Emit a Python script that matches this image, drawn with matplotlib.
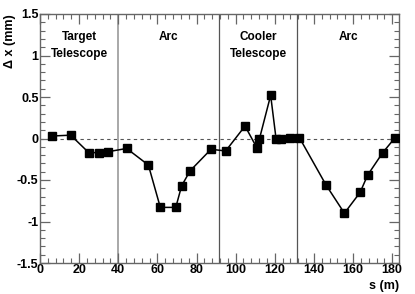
import matplotlib
matplotlib.use("Agg")
import matplotlib.pyplot as plt
from matplotlib.ticker import MultipleLocator

s_m = [6.0, 15.7, 24.9, 30.0, 34.6, 44.3, 55.4, 61.5, 69.4, 72.4, 76.7, 87.4, 94.9,
       104.8, 110.8, 112.1, 117.9, 120.7, 123.4, 127.8, 132.6,
       146.2, 155.6, 163.6, 167.5, 175.2, 181.5]
dx_mm = [0.03, 0.04, -0.17, -0.17, -0.16, -0.12, -0.32, -0.83, -0.83, -0.57, -0.39, -0.13, -0.15,
         0.15, -0.11, -0.01, 0.52, -0.01, 0.0, 0.01, 0.01,
         -0.56, -0.90, -0.65, -0.44, -0.17, 0.01]
boundaries = [40.0, 91.7, 131.4]
regions = ["Target\nTelescope", "Arc", "Cooler\nTelescope", "Arc"]
region_centers = [20.0, 65.5, 111.5, 157.5]

plt.rcParams['font.family'] = ['Liberation Sans', 'DejaVu Sans']
fig = plt.figure(figsize=(4.15, 2.94), dpi=100)
ax = fig.add_axes([40/415, 1-263/294, 359/415, 249/294])
ax.set_xlim(0, 183.5)
ax.set_ylim(-1.5, 1.5)

ax.axhline(0, color='#555555', lw=0.8, ls=(0, (3, 3)), zorder=1)
for i, b in enumerate(boundaries):
    ax.axvline(b, color='#999999' if i == 0 else '#555555', lw=1.2 if i == 0 else 0.9, zorder=1)
ax.plot(s_m, dx_mm, color='black', lw=1.1, marker='s', ms=5.5, zorder=3)

for c, t in zip(region_centers, regions):
    ax.text(c, 1.29, t, ha='center', va='top', fontsize=8.5, fontweight='bold', linespacing=1.5)

ax.xaxis.set_major_locator(MultipleLocator(20))
ax.xaxis.set_minor_locator(MultipleLocator(4))
ax.yaxis.set_major_locator(MultipleLocator(0.5))
ax.yaxis.set_minor_locator(MultipleLocator(0.1))
ax.tick_params(which='both', direction='in', top=True, right=True, color='#666666')
ax.tick_params(which='major', length=7, width=0.9)
ax.tick_params(which='minor', length=3.5, width=0.8)
ax.tick_params(axis='both', labelsize=9)
for lab in ax.get_xticklabels() + ax.get_yticklabels():
    lab.set_fontweight('bold')
ax.set_yticks([-1.5, -1, -0.5, 0, 0.5, 1, 1.5])
ax.set_yticklabels(['-1.5', '-1', '-0.5', '0', '0.5', '1', '1.5'], fontweight='bold')
ax.tick_params(axis='x', pad=1)
ax.tick_params(axis='y', pad=1)
for sp in ax.spines.values():
    sp.set_color('#666666')
    sp.set_linewidth(1.0)

ax.set_xlabel('s (m)', fontsize=9, fontweight='bold', loc='right')
ax.xaxis.set_label_coords(1.0, -0.07)
ax.set_ylabel('Δ x (mm)', fontsize=9, fontweight='bold', loc='top')
ax.yaxis.set_label_coords(-0.066, 1.0)

fig.savefig('out.png', dpi=100)
